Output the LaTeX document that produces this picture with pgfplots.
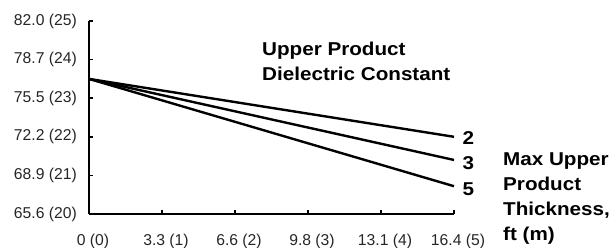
\documentclass[border=0pt]{standalone}
\usepackage{fontspec}
\setmainfont{Liberation Sans}
\newfontfamily\boldwide{Liberation Sans}[FakeStretch=1.11]
\usepackage{pgfplots}
\pgfplotsset{compat=1.18}
\begin{document}
\begin{tikzpicture}[x=1pt,y=1pt]
\useasboundingbox (0,0) rectangle (616,248);
\begin{axis}[
  at={(89pt,34pt)}, anchor=south west,
  scale only axis, width=365pt, height=193pt,
  xmin=0, xmax=5, ymin=20, ymax=25,
  axis lines*=left,
  axis line style={line width=2pt, black},
  xtick={0,1,2,3,4,5}, ytick={20,21,22,23,24,25},
  xticklabels={\mbox{0 (0)},\mbox{3.3 (1)},\mbox{6.6 (2)},\mbox{9.8 (3)},\mbox{13.1 (4)},\mbox{16.4 (5)}},
  yticklabels={\mbox{65.6 (20)},\mbox{68.9 (21)},\mbox{72.2 (22)},\mbox{75.5 (23)},\mbox{78.7 (24)},\mbox{82.0 (25)}},
  tick align=inside, major tick length=4pt,
  tick style={line width=1.5pt, black},
  tick label style={font=\fontsize{15.7}{19}\selectfont, text=black!85},
  xticklabel style={inner sep=0pt, anchor=north, yshift=-20pt, xshift=4pt},
  yticklabel style={inner sep=0pt, anchor=east, xshift=-12pt},
  clip=false,
]
\addplot[line width=2.4pt, black] coordinates {(0,23.5) (5,22.0)};
\addplot[line width=2.4pt, black] coordinates {(0,23.5) (5,21.4)};
\addplot[line width=2.4pt, black] coordinates {(0,23.5) (5,20.72)};
\end{axis}
\tikzset{bl/.style={anchor=base west, inner sep=0pt, font=\boldwide\bfseries\fontsize{18.6}{22}\selectfont}}
\node[bl] at (262,192.3) {Upper Product};
\node[bl] at (262,167) {Dielectric Constant};
\node[bl] at (462.5,103.7) {2};
\node[bl] at (462.5,78) {3};
\node[bl] at (462.5,52.3) {5};
\node[bl] at (503,82.3) {Max Upper};
\node[bl] at (503,57) {Product};
\node[bl] at (503,32) {Thickness,};
\node[bl] at (503,7) {ft (m)};
\end{tikzpicture}
\end{document}
